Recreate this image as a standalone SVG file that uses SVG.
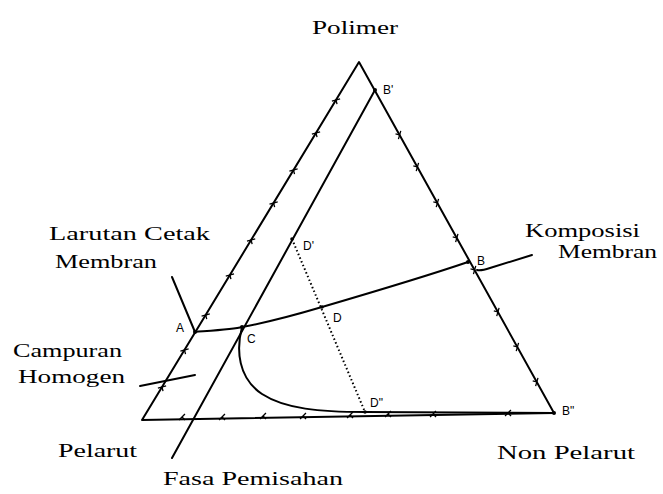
<svg xmlns="http://www.w3.org/2000/svg" width="663" height="494" viewBox="0 0 663 494">
<style>
.ln{fill:none;stroke:#000;stroke-width:2;stroke-linecap:round;stroke-linejoin:round}
.dt{fill:none;stroke:#000;stroke-width:2;stroke-dasharray:1.5,2.5}
.tk{fill:none;stroke:#000;stroke-width:1.3}
.lb{font-family:"Liberation Serif",serif;font-size:19px;fill:#000}
.pt{font-family:"Liberation Sans",sans-serif;font-size:12px;fill:#000}
</style>
<defs>
<path id="tk" class="tk" d="M-3,-3 L3,3 M-3,3 L0,0"/>
</defs>
<rect width="663" height="494" fill="#fff"/>
<g id="triangle">
<path class="ln" d="M142,420 L359,62 L554,413 Z"/>
</g>
<g id="ticks">
<use href="#tk" transform="translate(336,100) rotate(-59)"/>
<use href="#tk" transform="translate(316,133) rotate(-59)"/>
<use href="#tk" transform="translate(293.5,170) rotate(-59)"/>
<use href="#tk" transform="translate(273.6,203) rotate(-59)"/>
<use href="#tk" transform="translate(251.1,240) rotate(-59)"/>
<use href="#tk" transform="translate(229.9,275) rotate(-59)"/>
<use href="#tk" transform="translate(205.7,315) rotate(-59)"/>
<use href="#tk" transform="translate(184.5,350) rotate(-59)"/>
<use href="#tk" transform="translate(162,387) rotate(-59)"/>
<use href="#tk" transform="translate(399.6,135) rotate(61)"/>
<use href="#tk" transform="translate(417.4,167) rotate(61)"/>
<use href="#tk" transform="translate(437.4,203) rotate(61)"/>
<use href="#tk" transform="translate(456.8,238) rotate(61)"/>
<use href="#tk" transform="translate(474.6,270) rotate(61)"/>
<use href="#tk" transform="translate(497.9,312) rotate(61)"/>
<use href="#tk" transform="translate(517.4,347) rotate(61)"/>
<use href="#tk" transform="translate(536.8,382) rotate(61)"/>
<use href="#tk" transform="translate(182,417) rotate(-91)"/>
<use href="#tk" transform="translate(222,417) rotate(-91)"/>
<use href="#tk" transform="translate(263,416) rotate(-91)"/>
<use href="#tk" transform="translate(303,416) rotate(-91)"/>
<use href="#tk" transform="translate(350,415) rotate(-91)"/>
<use href="#tk" transform="translate(388,414) rotate(-91)"/>
<use href="#tk" transform="translate(433,414) rotate(-91)"/>
<use href="#tk" transform="translate(508,413) rotate(-91)"/>
</g>
<g id="connectors">
<path id="fasa-line" class="ln" d="M375,90 L172,458"/>
<path id="composition-path" class="ln" d="M195,332 C220,330 235,329 242,327 C270,322 295,315 322,307 C380,290 430,275 468,262"/>
<path id="binodal" class="ln" d="M242,327 C236,350 238,378 262,394 C285,409 320,412 365,412 L554,413"/>
<path id="tie-line" class="dt" d="M292,239 L365,412"/>
<path id="leader-larutan" class="ln" d="M172,277 L195,332"/>
<path id="leader-campuran" class="ln" d="M140,386 L195,375"/>
<path id="leader-komposisi" class="ln" d="M477,270 Q481,271 490,268 L532,255"/>
</g>
<g id="points">
<circle cx="195" cy="332" r="2"/>
<circle cx="242" cy="327" r="2"/>
<circle cx="322" cy="307" r="1.8"/>
<circle cx="292" cy="239" r="1.8"/>
<circle cx="365" cy="412" r="1.8"/>
<circle cx="375" cy="90" r="2"/>
<circle cx="468" cy="262" r="2"/>
<circle cx="554" cy="413" r="2"/>
<text class="pt" x="176" y="332">A</text>
<text class="pt" x="247" y="343">C</text>
<text class="pt" x="333" y="322">D</text>
<text class="pt" x="303" y="250">D'</text>
<text class="pt" x="370" y="407">D"</text>
<text class="pt" x="383" y="94">B'</text>
<text class="pt" x="477" y="265">B</text>
<text class="pt" x="562" y="415">B"</text>
</g>
<g id="label-polimer"><text class="lb" x="312" y="34" textLength="86" lengthAdjust="spacingAndGlyphs">Polimer</text></g>
<g id="label-larutan">
<text class="lb" x="49" y="240" textLength="161" lengthAdjust="spacingAndGlyphs">Larutan Cetak</text>
<text class="lb" x="55" y="268" textLength="102" lengthAdjust="spacingAndGlyphs">Membran</text>
</g>
<g id="label-komposisi">
<text class="lb" x="525" y="237" textLength="115" lengthAdjust="spacingAndGlyphs">Komposisi</text>
<text class="lb" x="558" y="258" textLength="99" lengthAdjust="spacingAndGlyphs">Membran</text>
</g>
<g id="label-campuran">
<text class="lb" x="13" y="357" textLength="109" lengthAdjust="spacingAndGlyphs">Campuran</text>
<text class="lb" x="18" y="383" textLength="107" lengthAdjust="spacingAndGlyphs">Homogen</text>
</g>
<g id="label-pelarut"><text class="lb" x="58" y="457" textLength="79" lengthAdjust="spacingAndGlyphs">Pelarut</text></g>
<g id="label-fasa"><text class="lb" x="163" y="485" textLength="180" lengthAdjust="spacingAndGlyphs">Fasa Pemisahan</text></g>
<g id="label-nonpelarut"><text class="lb" x="497" y="459" textLength="138" lengthAdjust="spacingAndGlyphs">Non Pelarut</text></g>
</svg>
